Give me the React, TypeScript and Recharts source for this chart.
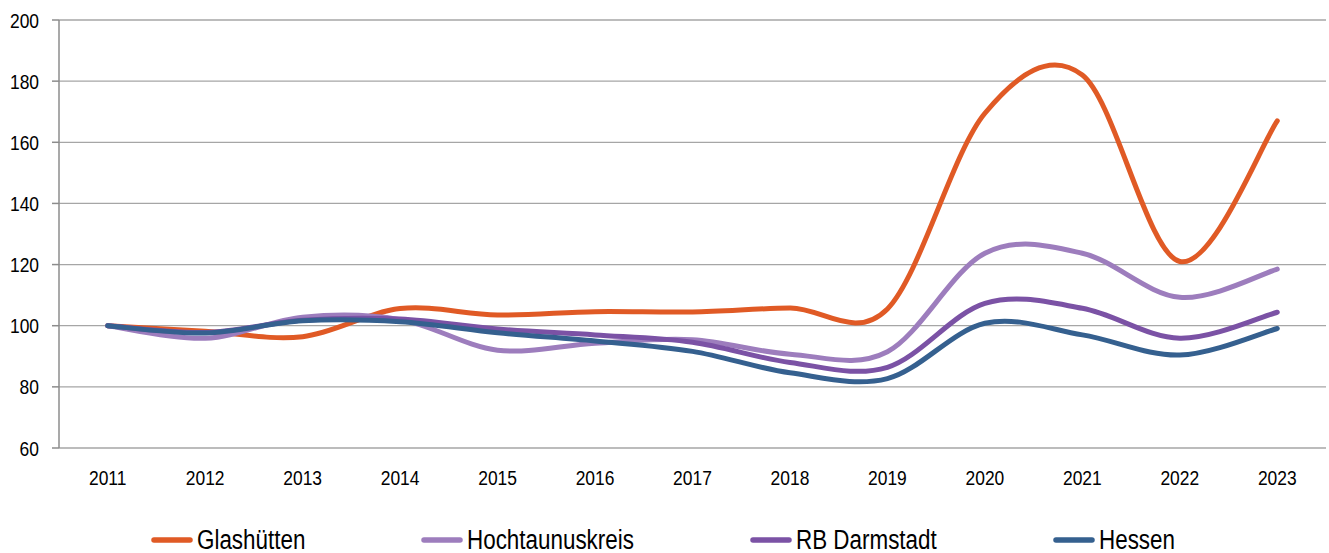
import React from 'react';
import { LineChart, Line, XAxis, YAxis, CartesianGrid, Legend } from 'recharts';

const years = [2011, 2012, 2013, 2014, 2015, 2016, 2017, 2018, 2019, 2020, 2021, 2022, 2023];
const glashuetten = [100, 98.2, 96.4, 105.6, 103.5, 104.6, 104.5, 105.8, 105.5, 169.5, 182, 121, 167];
const hochtaunuskreis = [100, 95.9, 102.8, 102, 92, 94.3, 95.4, 90.7, 91.5, 123.7, 123.7, 109.3, 118.5];
const rbDarmstadt = [100, 97.8, 101.8, 102.2, 98.9, 97, 94.6, 88, 86.4, 107.3, 105.7, 95.9, 104.4];
const hessen = [100, 97.6, 101.6, 101.3, 97.7, 95, 91.6, 84.6, 82.7, 100.8, 97, 90.4, 99.1];

const yTicks = [60, 80, 100, 120, 140, 160, 180, 200];
const boundaryTicks = [...years.map((y) => y - 0.5), years[years.length - 1] + 0.5];

const seriesDefs = [
  { key: 'Glashütten', values: glashuetten, color: '#E05A25' },
  { key: 'Hochtaunuskreis', values: hochtaunuskreis, color: '#9D7DBD' },
  { key: 'RB Darmstadt', values: rbDarmstadt, color: '#7B52A5' },
  { key: 'Hessen', values: hessen, color: '#35608F' },
];

const data = years.map((year, i) => {
  const row: Record<string, number> = { year };
  seriesDefs.forEach((s) => {
    row[s.key] = s.values[i];
  });
  return row;
});

// Catmull-Rom style smoothing (like Excel's smoothed line)
function smoothCurve(context: any) {
  let pts: number[][] = [];
  return {
    areaStart() {},
    areaEnd() {},
    lineStart() {
      pts = [];
    },
    point(x: number, y: number) {
      pts.push([+x, +y]);
    },
    lineEnd() {
      if (!pts.length) return;
      context.moveTo(pts[0][0], pts[0][1]);
      for (let i = 0; i < pts.length - 1; i++) {
        const p0 = pts[Math.max(i - 1, 0)];
        const p1 = pts[i];
        const p2 = pts[i + 1];
        const p3 = pts[Math.min(i + 2, pts.length - 1)];
        context.bezierCurveTo(
          p1[0] + (p2[0] - p0[0]) / 6,
          p1[1] + (p2[1] - p0[1]) / 6,
          p2[0] - (p3[0] - p1[0]) / 6,
          p2[1] - (p3[1] - p1[1]) / 6,
          p2[0],
          p2[1]
        );
      }
    },
  };
}

const FONT = '"Liberation Sans", Arial, sans-serif';
const SQUEEZE = 0.83;
const AXIS_FS = 21;
const LEGEND_FS = 27;

const YTick = (props: any) => {
  const { x, y, payload } = props;
  return (
    <g transform={`translate(${x},${y})`}>
      <text
        transform={`scale(${SQUEEZE},1)`}
        textAnchor="end"
        dy="0.36em"
        fontSize={AXIS_FS}
        fontFamily={FONT}
        fill="#000"
      >
        {payload.value}
      </text>
    </g>
  );
};

const XTick = (props: any) => {
  const { x, y, payload } = props;
  return (
    <g transform={`translate(${x},${y})`}>
      <text
        transform={`scale(${SQUEEZE},1)`}
        textAnchor="middle"
        dy="0.71em"
        fontSize={AXIS_FS}
        fontFamily={FONT}
        fill="#000"
      >
        {payload.value}
      </text>
    </g>
  );
};

let measureCtx: CanvasRenderingContext2D | null = null;
function textWidth(t: string) {
  if (typeof document === 'undefined') return t.length * LEGEND_FS * 0.5;
  if (!measureCtx) measureCtx = document.createElement('canvas').getContext('2d');
  if (!measureCtx) return t.length * LEGEND_FS * 0.5;
  measureCtx.font = `${LEGEND_FS}px "Liberation Sans", Arial, sans-serif`;
  return measureCtx.measureText(t).width * SQUEEZE;
}

const LegendContent = () => (
  <div
    style={{
      display: 'flex',
      justifyContent: 'center',
      alignItems: 'center',
      height: 65,
      paddingTop: 38,
      boxSizing: 'border-box',
      fontFamily: FONT,
      fontSize: LEGEND_FS,
      color: '#000',
    }}
  >
    {seriesDefs.map((s, i) => (
      <div
        key={s.key}
        style={{ display: 'flex', alignItems: 'center', marginRight: i < seriesDefs.length - 1 ? 116 : 0 }}
      >
        <svg width={42} height={8} style={{ marginRight: 4, flex: 'none' }}>
          <line x1={3} y1={4} x2={39} y2={4} stroke={s.color} strokeWidth={5.5} strokeLinecap="round" />
        </svg>
        <div style={{ width: textWidth(s.key), height: 30, position: 'relative', flex: 'none' }}>
          <span
            style={{
              position: 'absolute',
              left: 0,
              top: 0,
              lineHeight: '30px',
              whiteSpace: 'nowrap',
              transform: `scaleX(${SQUEEZE})`,
              transformOrigin: 'left center',
            }}
          >
            {s.key}
          </span>
        </div>
      </div>
    ))}
  </div>
);

export default function App() {
  return (
    <div style={{ position: 'absolute', left: 0, top: 0, width: 1329, height: 553, background: '#fff' }}>
      <LineChart width={1329} height={553} data={data} margin={{ top: 20, right: 3, bottom: 0, left: 0 }}>
        <CartesianGrid vertical={false} stroke="#A6A6A6" strokeWidth={1.3} />
        <XAxis
          xAxisId="bounds"
          dataKey="year"
          type="number"
          domain={[years[0] - 0.5, years[years.length - 1] + 0.5]}
          ticks={boundaryTicks}
          tick={false}
          tickLine={{ stroke: '#8C8C8C', strokeWidth: 1.5 }}
          tickSize={7}
          axisLine={{ stroke: '#8C8C8C', strokeWidth: 1.5 }}
          height={0}
          allowDataOverflow
        />
        <XAxis
          xAxisId="labels"
          dataKey="year"
          type="number"
          domain={[years[0] - 0.5, years[years.length - 1] + 0.5]}
          ticks={years}
          tickLine={false}
          axisLine={false}
          tickSize={0}
          tickMargin={22}
          height={40}
          interval={0}
          tick={<XTick />}
          allowDataOverflow
        />
        <YAxis
          width={59}
          domain={[60, 200]}
          ticks={yTicks}
          interval={0}
          tickSize={7}
          tickMargin={13}
          axisLine={{ stroke: '#8C8C8C', strokeWidth: 1.5 }}
          tickLine={{ stroke: '#8C8C8C', strokeWidth: 1.5 }}
          tick={<YTick />}
        />
        <Legend verticalAlign="bottom" content={<LegendContent />} />
        {seriesDefs.map((s) => (
          <Line
            key={s.key}
            xAxisId="labels"
            dataKey={s.key}
            type={smoothCurve as any}
            stroke={s.color}
            strokeWidth={5}
            strokeLinecap="round"
            dot={false}
            activeDot={false}
            isAnimationActive={false}
          />
        ))}
      </LineChart>
    </div>
  );
}
